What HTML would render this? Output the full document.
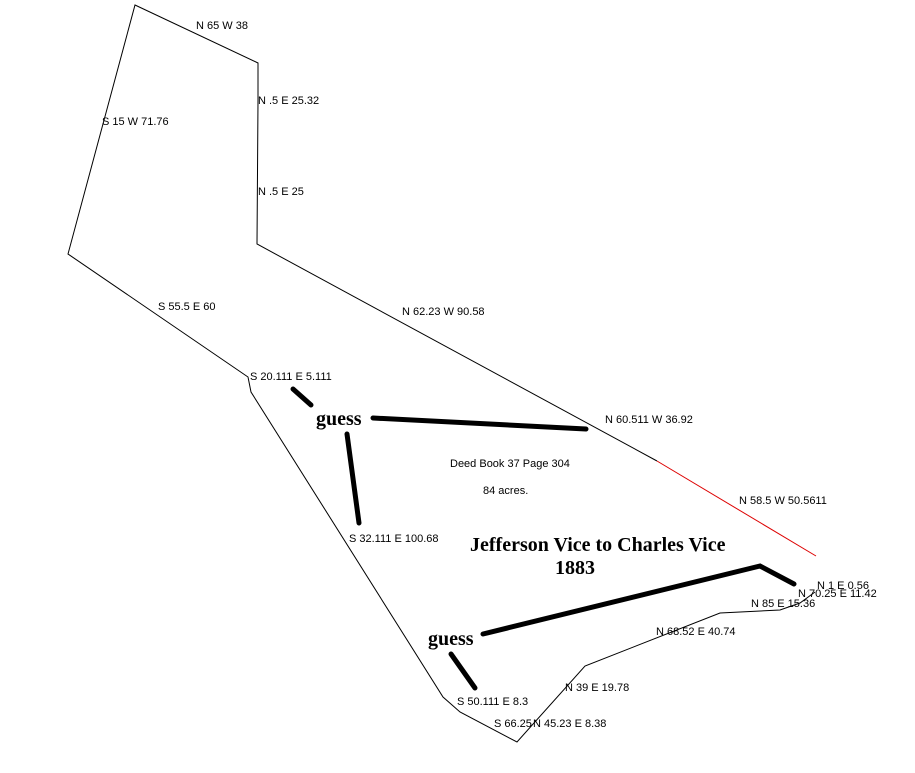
<!DOCTYPE html>
<html><head><style>
html,body{margin:0;padding:0;background:#fff;}
svg text{font-family:"Liberation Sans",sans-serif;font-size:11px;fill:#000;}
svg text.b{font-family:"Liberation Serif",serif;font-weight:bold;font-size:20px;}
</style></head><body>
<svg width="915" height="768" viewBox="0 0 915 768" xmlns="http://www.w3.org/2000/svg">
<polyline fill="none" stroke="#000" stroke-width="1" points="657,461 257,244 258,100 258,63 135,5 68,254 248,377 251,392 443,697 460,712 517,742 585,666 720,613 780,610 800,603 815,592"/>
<line x1="657" y1="461" x2="816" y2="556" stroke="#d00" stroke-width="1"/>
<g stroke="#000" stroke-width="5" stroke-linecap="round" fill="none">
<line x1="293" y1="389" x2="311" y2="405"/>
<line x1="373" y1="418" x2="586" y2="429"/>
<line x1="347" y1="434" x2="359" y2="523"/>
<polyline points="483,634 760,566 794,584"/>
<line x1="451" y1="654" x2="475" y2="688"/>
</g>
<text x="196" y="29">N 65 W 38</text>
<text x="258" y="104">N .5 E 25.32</text>
<text x="102" y="125">S 15 W 71.76</text>
<text x="258" y="195">N .5 E 25</text>
<text x="158" y="310">S 55.5 E 60</text>
<text x="402" y="315">N 62.23 W 90.58</text>
<text x="250" y="380">S 20.111 E 5.111</text>
<text x="605" y="423">N 60.511 W 36.92</text>
<text x="450" y="467">Deed Book 37 Page 304</text>
<text x="483" y="494">84 acres.</text>
<text x="739" y="504">N 58.5 W 50.5611</text>
<text x="349" y="542">S 32.111 E 100.68</text>
<text class="b" x="470" y="551">Jefferson Vice to Charles Vice</text>
<text class="b" x="555" y="574">1883</text>
<text class="b" x="316" y="425">guess</text>
<text class="b" x="428" y="645">guess</text>
<text x="817" y="589">N 1 E 0.56</text>
<text x="798" y="597">N 70.25 E 11.42</text>
<text x="751" y="607">N 85 E 15.36</text>
<text x="656" y="635">N 68.52 E 40.74</text>
<text x="565" y="691">N 39 E 19.78</text>
<text x="457" y="705">S 50.111 E 8.3</text>
<text x="494" y="727">S 66.25</text>
<text x="533" y="727">N 45.23 E 8.38</text>
</svg>
</body></html>
